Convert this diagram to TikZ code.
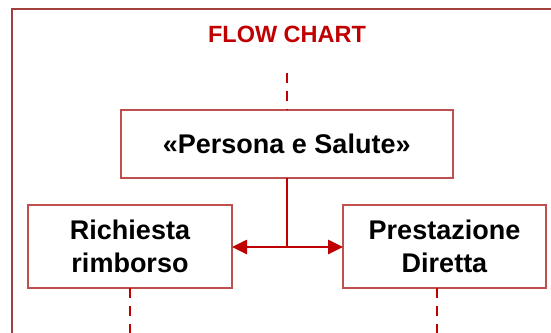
\documentclass[tikz,border=0pt]{standalone}
\usepackage{fontspec}
\setmainfont{Liberation Sans}
\usetikzlibrary{arrows.meta}
\definecolor{framered}{HTML}{A0403F}
\definecolor{boxred}{HTML}{C0504D}
\definecolor{linered}{HTML}{C00000}
\tikzset{
  stepbox/.style={draw=boxred, line width=2pt, fill=white, align=center,
    font=\fontsize{27}{32.5}\selectfont\bfseries, text=black, inner sep=0pt, outer sep=0pt},
  link/.style={draw=linered, line width=2.6pt},
  dashlink/.style={draw=linered, line width=2pt, dash pattern=on 10pt off 8pt},
  tip/.style={-{Triangle[length=15pt,width=14pt]}}
}
\begin{document}
\begin{tikzpicture}[x=1pt,y=-1pt]
\useasboundingbox (0,0) rectangle (551,332);
% outer frame (runs off the right and bottom edges)
\draw[framered, line width=2pt] (12,340) -- (12,9) -- (560,9);
\node[text=linered, font=\fontsize{23.5}{28}\selectfont\bfseries] (title) at (287,34) {FLOW CHART};
\node[stepbox, minimum width=332.5pt, minimum height=68pt] (ps) at (286.75,144) {«Persona e Salute»};
\node[stepbox, minimum width=204pt, minimum height=83pt] (rr) at (130,246.5) {Richiesta\\rimborso};
\node[stepbox, minimum width=203pt, minimum height=83pt] (pd) at (444.5,246.5) {Prestazione\\Diretta};
\coordinate (top) at (287,72.7);
\coordinate (ra) at (130,334);
\coordinate (pa) at (437,334);
\coordinate (split) at (287,247);
\draw[dashlink] (top) -- (top |- ps.north);
\draw[dashlink] (rr.south) -- (ra);
\draw[dashlink] (pa |- pd.south) -- (pa);
\draw[link] (ps.south -| split) -- (split);
\draw[link, tip] (split) -- (rr.east |- split);
\draw[link, tip] (split) -- (pd.west |- split);
\end{tikzpicture}
\end{document}
